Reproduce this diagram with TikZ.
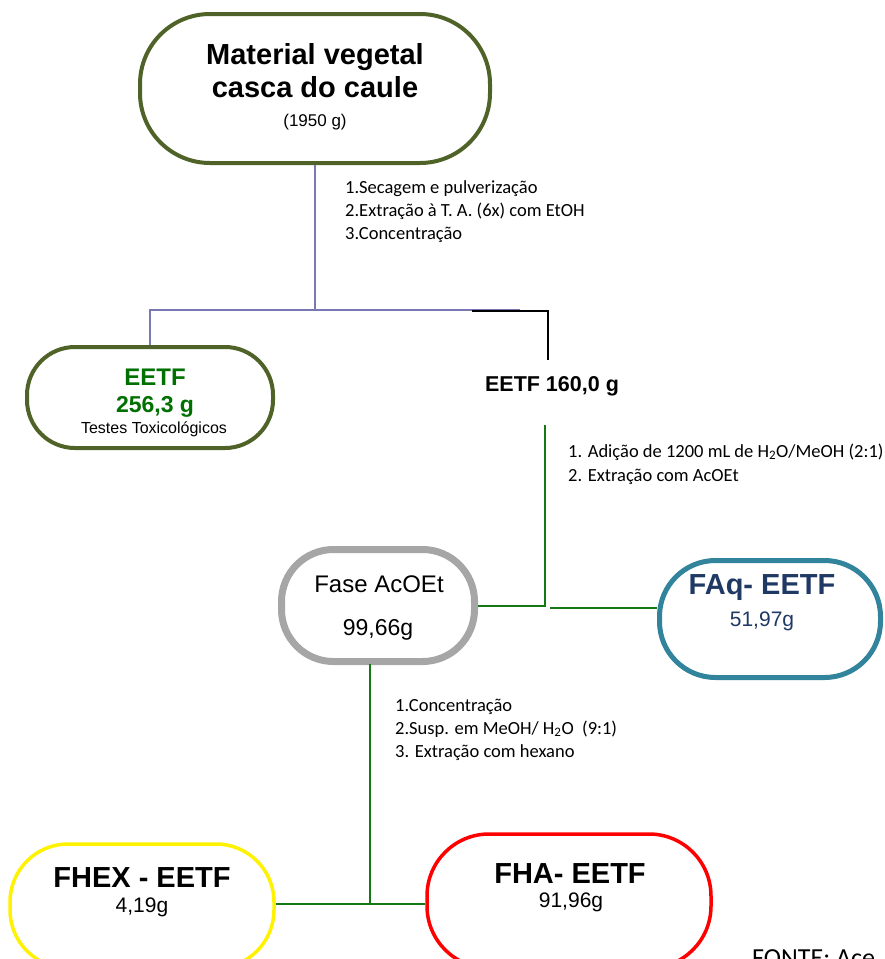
\documentclass[tikz,border=0pt]{standalone}
\usepackage{fontspec}
\setmainfont{Liberation Sans}
\newfontfamily\calibri{Carlito}
\definecolor{oliva}{RGB}{79,98,40}
\definecolor{verdetx}{RGB}{0,112,0}
\definecolor{verdeln}{RGB}{20,120,20}
\definecolor{roxo}{RGB}{120,120,180}
\definecolor{cinza}{RGB}{166,166,166}
\definecolor{azulpet}{RGB}{49,132,155}
\definecolor{marinho}{RGB}{31,56,100}
\begin{document}
\begin{tikzpicture}[x=1pt,y=-1pt,
	caixa/.style={draw, fill=white, inner sep=0pt},
	rotulo/.style={anchor=base, inner sep=0pt},
	etapa/.style={anchor=base west, inner sep=0pt, font=\calibri\fontsize{18.5}{23}\selectfont},
	roxa/.style={draw=roxo, line width=1.5pt},
	verde/.style={draw=verdeln, line width=1.5pt}]
	\useasboundingbox (0,0) rectangle (885,959);
	\clip (0,0) rectangle (885,959);
	% caixas
	\node[caixa, draw=oliva, line width=4pt, minimum width=350, minimum height=149, rounded corners=70] (mat) at (315,88.5) {};
	\node[rotulo, font=\fontsize{29}{33}\selectfont\bfseries] (matA) at (315,64) {Material vegetal};
	\node[rotulo, font=\fontsize{29}{33}\selectfont\bfseries] (matB) at (315,97) {casca do caule};
	\node[rotulo, font=\fontsize{17}{20}\selectfont] (matC) at (315,126) {(1950 g)};
	\node[caixa, draw=oliva, line width=4pt, minimum width=246, minimum height=101, rounded corners=48] (eetf) at (150,397.5) {};
	\node[rotulo, text=verdetx, font=\fontsize{24}{28}\selectfont\bfseries] (eetfA) at (155,385) {EETF};
	\node[rotulo, text=verdetx, font=\fontsize{23}{28}\selectfont\bfseries] (eetfB) at (155,412) {256,3 g};
	\node[rotulo, font=\fontsize{16}{19}\selectfont] (eetfC) at (154,433) {Testes Toxicológicos};
	\node[rotulo, font=\fontsize{21.5}{25}\selectfont\bfseries] (eetfD) at (552,391) {EETF 160,0 g};
	\node[caixa, draw=cinza, line width=7pt, minimum width=193, minimum height=112, rounded corners=52] (fase) at (378,605.5) {};
	\node[rotulo, font=\fontsize{24}{28}\selectfont] (faseA) at (379,592) {Fase AcOEt};
	\node[rotulo, font=\fontsize{23}{28}\selectfont] (faseB) at (378,635) {99,66g};
	\node[caixa, draw=azulpet, line width=5pt, minimum width=221, minimum height=117, rounded corners=56] (faq) at (770,619) {};
	\node[rotulo, text=marinho, font=\fontsize{29}{33}\selectfont\bfseries] (faqA) at (762,594) {FAq- EETF};
	\node[rotulo, text=marinho, font=\fontsize{21}{25}\selectfont] (faqB) at (762,626) {51,97g};
	\node[caixa, draw=yellow, line width=3.5pt, minimum width=264, minimum height=124, rounded corners=58] (fhex) at (142,906) {};
	\node[rotulo, font=\fontsize{29}{33}\selectfont\bfseries] (fhexA) at (142,887) {FHEX - EETF};
	\node[rotulo, font=\fontsize{21}{25}\selectfont] (fhexB) at (142,912) {4,19g};
	\node[caixa, draw=red, line width=3.5pt, minimum width=284, minimum height=134, rounded corners=62] (fha) at (569,901) {};
	\node[rotulo, font=\fontsize{29}{33}\selectfont\bfseries] (fhaA) at (570,883) {FHA- EETF};
	\node[rotulo, font=\fontsize{21}{25}\selectfont] (fhaB) at (571,907) {91,96g};
	% etapas
	\node[etapa] (et1) at (345,193) {1.Secagem e pulverização};
	\node[etapa] (et2) at (345,216) {2.Extração à T. A. (6x) com EtOH};
	\node[etapa] (et3) at (345,239) {3.Concentração};
	\node[etapa] (et4) at (568,457) {1. Adição de 1200 mL de H\textsubscript{2}O/MeOH (2:1)};
	\node[etapa] (et5) at (568,481) {2. Extração com AcOEt};
	\node[etapa] (et6) at (395,711) {1.Concentração};
	\node[etapa] (et7) at (395,734) {2.Susp. em MeOH/ H\textsubscript{2}O\ \ (9:1)};
	\node[etapa] (et8) at (395,757) {3. Extração com hexano};
	\node[anchor=base west, inner sep=0pt, font=\calibri\fontsize{26}{30}\selectfont] (fonte) at (752,966) {FONTE: Ace};
	% ligacoes
	\coordinate (p1) at (315,310);
	\coordinate (p2) at (520,310);
	\coordinate (k1) at (472,311);
	\coordinate (k2) at (548,360);
	\coordinate (g1) at (545,425);
	\coordinate (g2) at (545,606);
	\coordinate (g3) at (550,608);
	\coordinate (h1) at (370,664);
	\coordinate (h2) at (370,904);
	\draw[roxa] (mat.south) -- (p1);
	\draw[roxa] (eetf.north) |- (p2);
	\draw[line width=1.5pt] (k1) -| (k2);
	\draw[verde] (g1) -- (g2) -- (g2 -| fase.east);
	\draw[verde] (g3) -- (g3 -| faq.west);
	\draw[verde] (h1) -- (h2);
	\draw[verde] (h2 -| fhex.east) -- (h2 -| fha.west);
\end{tikzpicture}
\end{document}
